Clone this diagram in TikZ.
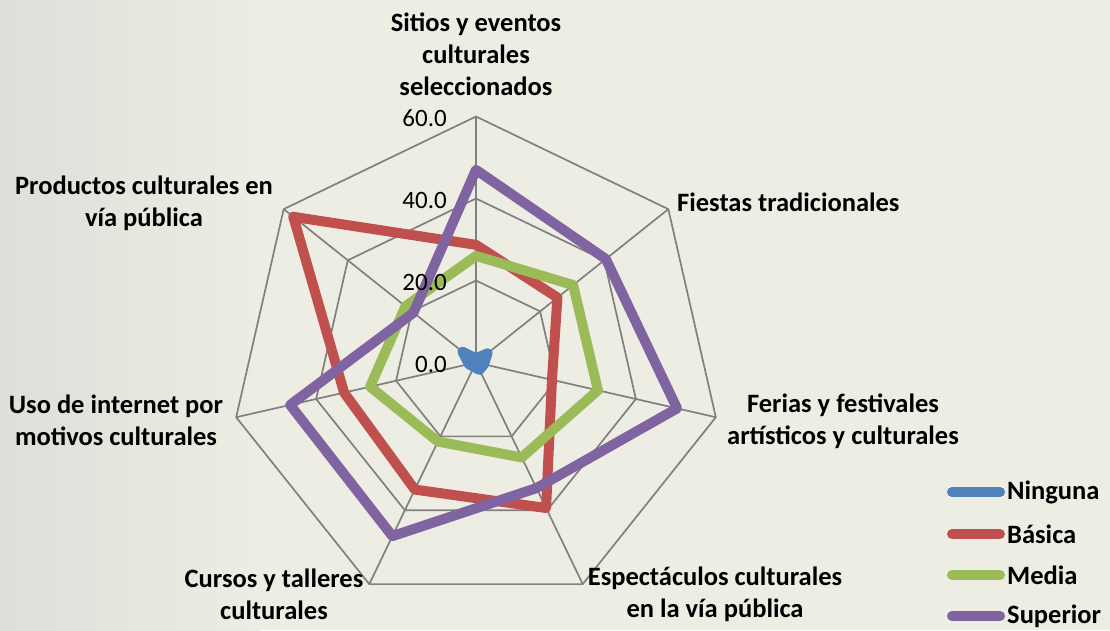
\documentclass[tikz,border=0pt]{standalone}
\usepackage{fontspec}
\setmainfont{Carlito}
\usetikzlibrary{calc}
\usetikzlibrary{positioning}
\definecolor{bg}{RGB}{238,237,227}
\definecolor{texture}{RGB}{222,222,218}
\definecolor{ninguna}{RGB}{79,129,189}
\definecolor{basica}{RGB}{192,80,77}
\definecolor{media}{RGB}{155,187,89}
\definecolor{superior}{RGB}{128,100,162}
\definecolor{gridgray}{RGB}{128,128,128}
\tikzset{
  axislabel/.style={font=\fontsize{26.5}{32}\selectfont\bfseries, align=center, inner sep=0},
  ticklabel/.style={font=\fontsize{25}{30}\selectfont, anchor=east, inner sep=0},
  legendtext/.style={font=\fontsize{26.5}{32}\selectfont\bfseries, anchor=west, inner sep=0},
  gridline/.style={draw=gridgray, line width=1.7pt},
  series/.style={line width=10pt, line join=round, line cap=round},
  legendline/.style={line width=10pt, line cap=round}
}
% one data series: name, colour, seven values
\newcommand{\radarseries}[3]{
  \foreach \v [count=\k from 0] in {#3}
    \coordinate (#1\k) at ({-90+360/7*\k}:{4.1*\v});
  \draw[series, #2] (#10) -- (#11) -- (#12) -- (#13) -- (#14) -- (#15) -- (#16) -- cycle;
}

\begin{document}
\begin{tikzpicture}[x=1pt, y=-1pt]
  \fill[bg] (0,0) rectangle (1110,630);
  \shade[left color=texture, right color=bg] (0,0) rectangle (260,630);
  \useasboundingbox (0,0) rectangle (1110,630);

  \begin{scope}[shift={(476,362.5)}]
    \coordinate (ctr) at (0,0);
    \foreach \k in {0,...,6}
      \coordinate (ax\k) at ({-90+360/7*\k}:246);
    % rings and spokes
    \foreach \r in {82,164,246}
      \draw[gridline] (-90:\r) \foreach \k in {1,...,6}{ -- ({-90+360/7*\k}:\r)} -- cycle;
    \foreach \k in {0,...,6}
      \draw[gridline] (ctr) -- (ax\k);

    \radarseries{nin}{ninguna}{1,3.6,2,2,1.2,1.8,4.2}
    \radarseries{bas}{basica}{28.7,25.4,19,39.4,34.4,33,57}
    \radarseries{med}{media}{26,30.3,30.5,25.7,21.4,26.5,22}
    \radarseries{sup}{superior}{47,40.5,50.3,34,47,46.5,19.5}
  \end{scope}

  % scale
  \node[ticklabel] (t60) at (447,118) {60.0};
  \node[ticklabel] (t40) at (447,200) {40.0};
  \node[ticklabel] (t20) at (447,282) {20.0};
  \node[ticklabel] (t0)  at (447,364) {0.0};

  % axis names
  \node[axislabel] (sitios) at (476,54) {Sitios y eventos\\culturales\\seleccionados};
  \node[axislabel, anchor=west] (fiestas) at (677,202) {Fiestas tradicionales};
  \node[axislabel] (ferias) at (843,421) {Ferias y festivales\\artísticos y culturales};
  \node[axislabel] (espect) at (715,594) {Espectáculos culturales\\en la vía pública};
  \node[axislabel] (cursos) at (274,594) {Cursos y talleres\\culturales};
  \node[axislabel] (uso) at (116,420) {Uso de internet por\\motivos culturales};
  \node[axislabel] (productos) at (144,203) {Productos culturales en\\vía pública};

  % legend
  \foreach \name/\col/\yy in {Ninguna/ninguna/492, Básica/basica/534, Media/media/575, Superior/superior/616}{
    \node[legendtext] (lg\col) at (1007,\yy) {\name};
    \draw[legendline, \col] ($(lg\col.west)+(-55,0)$) -- ($(lg\col.west)+(-7,0)$);
  }
\end{tikzpicture}
\end{document}
